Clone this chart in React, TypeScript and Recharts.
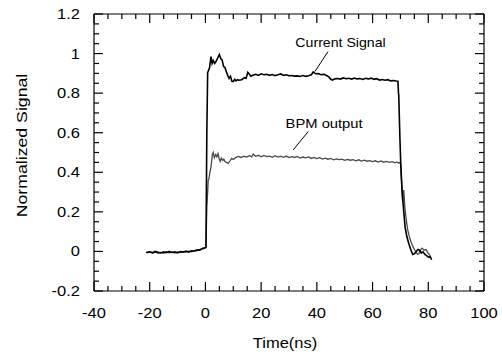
import React from 'react';
import { LineChart, Line, XAxis, YAxis, ReferenceLine, ReferenceDot } from 'recharts';

// Axis ticks
const X_TICKS = [-40, -20, 0, 20, 40, 60, 80, 100];
const X_MINOR_TICKS = [
  -40, -35, -30, -25, -20, -15, -10, -5, 0, 5, 10, 15, 20, 25, 30, 35, 40, 45, 50, 55, 60, 65, 70, 75,
  80, 85, 90, 95, 100,
];
const Y_TICKS = [-0.2, 0, 0.2, 0.4, 0.6, 0.8, 1, 1.2];
const Y_MINOR_TICKS = [
  -0.2, -0.15, -0.1, -0.05, 0, 0.05, 0.1, 0.15, 0.2, 0.25, 0.3, 0.35, 0.4, 0.45, 0.5, 0.55, 0.6, 0.65,
  0.7, 0.75, 0.8, 0.85, 0.9, 0.95, 1, 1.05, 1.1, 1.15, 1.2,
];

// Current signal (ns, normalized)
const currentTime = [
  -21.3, -20, -19, -18, -17, -16, -15, -14, -13, -12, -11, -10, -9, -8, -7, -6, -5, -4, -3, -2, -1.2,
  -0.3, 0.2, 0.5, 0.8, 1.0, 1.5, 2.0, 2.4, 2.8, 3.3, 3.8, 4.3, 5.0, 5.5, 6.0, 6.5, 7.0, 7.6, 8.0, 8.5,
  9.0, 9.5, 10, 10.5, 11, 11.5, 12, 13, 14, 14.6, 15.2, 15.8, 16.3, 17, 18, 19, 20, 21, 22, 23, 24, 25,
  26, 27, 28, 29, 30, 31, 32, 33, 34, 35, 36, 37, 38, 38.7, 39.5, 40.5, 41.5, 42.5, 43.5, 44.3, 45.0,
  45.6, 46.5, 47.5, 48.5, 49.5, 50.5, 51.5, 52.5, 53.5, 54.5, 55.5, 56.5, 57.5, 58.5, 59.5, 60.5,
  61.5, 62.5, 63.5, 64.5, 65.5, 66.5, 67.5, 68.5, 69.1, 69.3, 69.4, 69.8, 70.1, 70.6, 71.2, 71.7, 72.3,
  73.0, 73.7, 74.4, 75.0, 75.7, 76.3, 76.9, 77.5, 78.1, 78.8, 79.5, 80.2, 80.7, 81.2,
];
const currentSignal = [
  -0.005, -0.002, -0.006, 0.0, -0.004, -0.008, -0.002, -0.006, 0.0, -0.005, -0.002, -0.007, -0.001,
  -0.004, 0.002, -0.003, 0.003, 0.002, 0.008, 0.006, 0.015, 0.018, 0.02, 0.6, 0.905, 0.91, 0.93, 0.985,
  0.95, 0.965, 0.95, 0.96, 0.975, 0.995, 0.975, 0.968, 0.935, 0.93, 0.905, 0.89, 0.875, 0.885, 0.86,
  0.858, 0.87, 0.862, 0.868, 0.865, 0.868, 0.878, 0.875, 0.905, 0.895, 0.885, 0.89, 0.895, 0.89, 0.898,
  0.893, 0.895, 0.89, 0.894, 0.888, 0.893, 0.897, 0.89, 0.893, 0.888, 0.889, 0.886, 0.887, 0.884,
  0.889, 0.885, 0.888, 0.893, 0.907, 0.898, 0.899, 0.893, 0.895, 0.889, 0.882, 0.87, 0.866, 0.872,
  0.874, 0.871, 0.877, 0.873, 0.875, 0.871, 0.876, 0.872, 0.874, 0.869, 0.875, 0.872, 0.876, 0.87,
  0.873, 0.866, 0.869, 0.865, 0.868, 0.862, 0.864, 0.861, 0.86, 0.8, 0.79, 0.58, 0.45, 0.3, 0.2, 0.12,
  0.075, 0.04, 0.01, -0.015, -0.012, 0.0, 0.01, 0.006, -0.008, -0.002, -0.015, -0.022, -0.03, -0.026,
  -0.042,
];

// BPM output (ns, normalized)
const bpmTime = [
  -21, -20, -19, -18, -17, -16, -15, -14, -13, -12, -11, -10, -9, -8, -7, -6, -5, -4, -3, -2, -1, -0.2,
  0.2, 0.5, 0.8, 1.0, 1.3, 1.6, 1.9, 2.2, 2.5, 2.8, 3.2, 3.7, 4.1, 4.5, 4.9, 5.3, 5.7, 6.2, 6.6, 7.0,
  7.6, 8.2, 8.8, 9.4, 10.0, 10.8, 11.8, 12.8, 13.8, 14.8, 15.8, 16.6, 17.2, 18, 19, 20, 21, 22, 23, 24,
  25, 26, 27, 28, 29, 30, 31, 32, 33, 34, 35, 36, 37, 38, 39, 40, 41, 42, 43, 44, 45, 46, 47, 48, 49,
  50, 51, 52, 53, 54, 55, 56, 57, 58, 59, 60, 61, 62, 63, 64, 65, 66, 67, 68, 68.8, 69.3, 69.8, 70.1,
  70.3, 70.5, 70.8, 71.2, 71.6, 72.1, 72.6, 73.2, 73.8, 74.4, 75.0, 75.6, 76.2, 76.6, 77.2, 77.8, 78.5,
  79.2, 79.8, 80.3, 80.7,
];
const bpmSignal = [
  -0.008, -0.003, -0.009, -0.004, -0.01, -0.005, -0.009, -0.002, -0.007, -0.003, -0.008, -0.004, -0.006,
  0.0, -0.005, 0.001, -0.002, 0.004, 0.003, 0.01, 0.012, 0.016, 0.022, 0.227, 0.3, 0.36, 0.37, 0.4,
  0.42, 0.45, 0.49, 0.5, 0.474, 0.49, 0.478, 0.494, 0.47, 0.455, 0.472, 0.46, 0.466, 0.454, 0.45, 0.445,
  0.457, 0.47, 0.465, 0.474, 0.48, 0.475, 0.481, 0.477, 0.484, 0.478, 0.492, 0.481, 0.486, 0.478, 0.485,
  0.479, 0.482, 0.476, 0.484, 0.477, 0.481, 0.476, 0.482, 0.474, 0.479, 0.475, 0.48, 0.472, 0.477,
  0.473, 0.478, 0.47, 0.475, 0.469, 0.474, 0.467, 0.471, 0.466, 0.47, 0.463, 0.468, 0.464, 0.466, 0.46,
  0.465, 0.461, 0.464, 0.458, 0.463, 0.457, 0.461, 0.456, 0.459, 0.454, 0.458, 0.452, 0.457, 0.451,
  0.455, 0.45, 0.454, 0.448, 0.452, 0.447, 0.449, 0.438, 0.38, 0.33, 0.25, 0.31, 0.22, 0.16, 0.11,
  0.075, 0.048, 0.028, 0.01, -0.005, -0.015, -0.012, 0.008, 0.016, 0.006, 0.009, -0.006, -0.014, -0.022,
  -0.03, -0.036,
];

const currentData = currentTime.map((x, i) => ({ x, y: currentSignal[i] }));
const bpmData = bpmTime.map((x, i) => ({ x, y: bpmSignal[i] }));

// Annotation anchors (data coords)
const CURRENT_LABEL = { x: 48.5, y: 1.032 };
const CURRENT_LEADER = [{ x: 44.0, y: 1.01 }, { x: 39.3, y: 0.909 }];
const BPM_LABEL = { x: 42.6, y: 0.623 };
const BPM_LEADER = [{ x: 36.9, y: 0.606 }, { x: 31.5, y: 0.513 }];

const FONT = '"Liberation Sans", Arial, Helvetica, sans-serif';
const SX = 1.18; // text in the source is horizontally stretched
const MAJOR = 9;
const MINOR = 5;
const INK = '#000';

const ScaledText = ({ x, y, size, anchor = 'middle', rotate = 0, children }: any) => (
  <text
    transform={`translate(${x},${y}) rotate(${rotate}) scale(${SX},1)`}
    textAnchor={anchor}
    fontSize={size}
    fontFamily={FONT}
    fill="#000"
  >
    {children}
  </text>
);

const BottomTick = ({ x, y, payload }: any) => {
  const major = X_TICKS.includes(payload.value);
  return (
    <g>
      <line x1={x} x2={x} y1={y} y2={y - (major ? MAJOR : MINOR)} stroke={INK} strokeWidth={1.2} />
      {major && (
        <ScaledText x={x} y={y + 27} size={14}>
          {payload.value}
        </ScaledText>
      )}
    </g>
  );
};

const TopTick = ({ x, y, payload }: any) => {
  const major = X_TICKS.includes(payload.value);
  return <line x1={x} x2={x} y1={y} y2={y + (major ? MAJOR : MINOR)} stroke={INK} strokeWidth={1.2} />;
};

const LeftTick = ({ x, y, payload }: any) => {
  const major = Y_TICKS.includes(payload.value);
  return (
    <g>
      <line x1={x} x2={x + (major ? MAJOR : MINOR)} y1={y} y2={y} stroke={INK} strokeWidth={1.2} />
      {major && (
        <ScaledText x={x - 14} y={y + 5} size={14} anchor="end">
          {payload.value}
        </ScaledText>
      )}
    </g>
  );
};

const RightTick = ({ x, y, payload }: any) => {
  const major = Y_TICKS.includes(payload.value);
  return <line x1={x} x2={x - (major ? MAJOR : MINOR)} y1={y} y2={y} stroke={INK} strokeWidth={1.2} />;
};

const annotation = (text: string, size: number) => (props: any) => {
  const vb = props.viewBox || {};
  const cx = vb.x + (vb.width || 0) / 2;
  const cy = vb.y + (vb.height || 0) / 2;
  return (
    <ScaledText x={cx} y={cy} size={size}>
      {text}
    </ScaledText>
  );
};

export default function App() {
  return (
    <div style={{ position: 'absolute', left: 0, top: 0 }}>
      <LineChart width={502} height={356} margin={{ top: 0, right: 0, bottom: 0, left: 0 }}>
        <XAxis
          dataKey="x"
          type="number"
          domain={[-40, 100]}
          ticks={X_MINOR_TICKS}
          interval={0}
          height={65}
          tickSize={0}
          tickMargin={0}
          tickLine={false}
          tick={<BottomTick />}
          axisLine={{ stroke: INK, strokeWidth: 1.2 }}
        />
        <XAxis
          xAxisId="top"
          orientation="top"
          dataKey="x"
          type="number"
          domain={[-40, 100]}
          allowDataOverflow
          ticks={X_MINOR_TICKS}
          interval={0}
          height={14}
          tickSize={0}
          tickMargin={0}
          tickLine={false}
          tick={<TopTick />}
          axisLine={{ stroke: INK, strokeWidth: 1.2 }}
        />
        <YAxis
          type="number"
          domain={[-0.2, 1.2]}
          allowDataOverflow
          ticks={Y_MINOR_TICKS}
          interval={0}
          width={94}
          tickSize={0}
          tickMargin={0}
          tickLine={false}
          tick={<LeftTick />}
          axisLine={{ stroke: INK, strokeWidth: 1.2 }}
        />
        <YAxis
          yAxisId="right"
          orientation="right"
          type="number"
          domain={[-0.2, 1.2]}
          allowDataOverflow
          ticks={Y_MINOR_TICKS}
          interval={0}
          width={18}
          tickSize={0}
          tickMargin={0}
          tickLine={false}
          tick={<RightTick />}
          axisLine={{ stroke: INK, strokeWidth: 1.2 }}
        />
        <Line
          data={bpmData}
          dataKey="y"
          type="linear"
          stroke="#4a4a4a"
          strokeWidth={1.3}
          dot={false}
          isAnimationActive={false}
        />
        <Line
          data={currentData}
          dataKey="y"
          type="linear"
          stroke="#000"
          strokeWidth={1.6}
          dot={false}
          isAnimationActive={false}
        />
        <ReferenceLine segment={CURRENT_LEADER} stroke="#000" strokeWidth={1} />
        <ReferenceLine segment={BPM_LEADER} stroke="#000" strokeWidth={1} />
        <ReferenceDot
          x={CURRENT_LABEL.x}
          y={CURRENT_LABEL.y}
          r={0}
          fill="none"
          stroke="none"
          label={annotation('Current Signal', 12)}
        />
        <ReferenceDot
          x={BPM_LABEL.x}
          y={BPM_LABEL.y}
          r={0}
          fill="none"
          stroke="none"
          label={annotation('BPM output', 12.5)}
        />
        {/* axis titles */}
        <ReferenceDot
          x={-40}
          y={0.5}
          r={0}
          ifOverflow="visible"
          fill="none"
          stroke="none"
          label={(p: any) => (
            <ScaledText x={26.7} y={p.viewBox.y - 7} size={15} rotate={-90}>
              Normalized Signal
            </ScaledText>
          )}
        />
        <ReferenceDot
          x={30}
          y={-0.2}
          r={0}
          ifOverflow="visible"
          fill="none"
          stroke="none"
          label={(p: any) => (
            <ScaledText x={p.viewBox.x - 4} y={p.viewBox.y + 57} size={14}>
              Time(ns)
            </ScaledText>
          )}
        />
      </LineChart>
    </div>
  );
}
